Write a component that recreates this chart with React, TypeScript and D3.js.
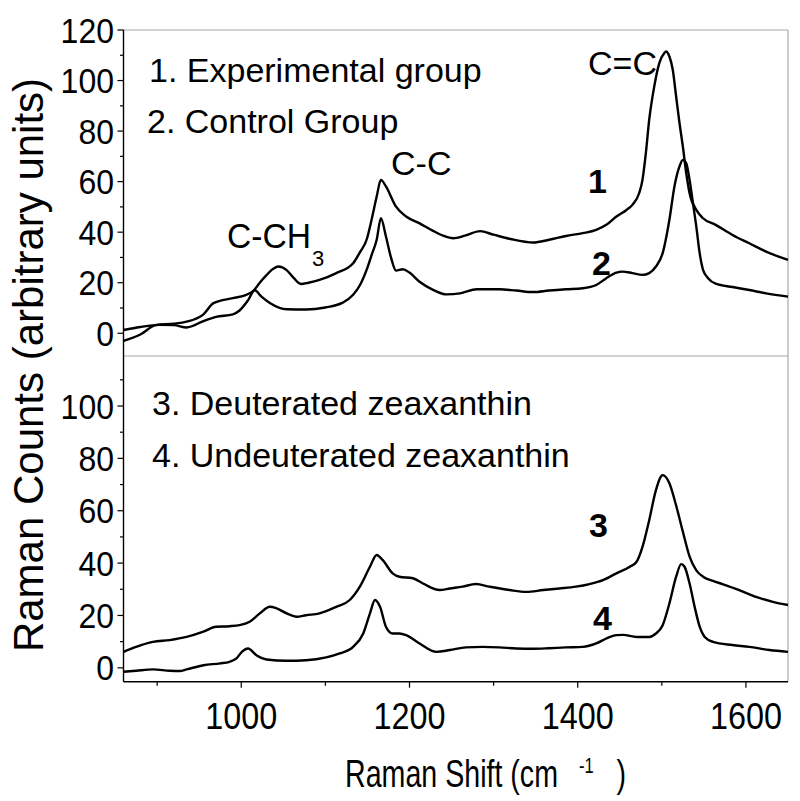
import React from 'react';
import * as d3 from 'd3';

// Curve 1: Experimental group (top panel)
const shift1 = [860, 880, 899, 920, 935, 955, 967, 990, 1006, 1015, 1022, 1030, 1038, 1044, 1054, 1062, 1071, 1080, 1093, 1113, 1133, 1141, 1149, 1155, 1161, 1166, 1172, 1184, 1196, 1212, 1228, 1240, 1252, 1266, 1284, 1300, 1320, 1347, 1366, 1386, 1406, 1422, 1434, 1446, 1458, 1465, 1473, 1477, 1481, 1485, 1491, 1497, 1503, 1505, 1509, 1513, 1517, 1521, 1525, 1529, 1533, 1541, 1549, 1564, 1584, 1604, 1624, 1650];
const counts1 = [-3, -0.5, 3.3, 3.8, 4.6, 7.5, 11.9, 13.9, 15.2, 17, 20, 23, 25.5, 26.4, 25, 22, 19.5, 20, 21.1, 23.8, 27.7, 32, 37, 45, 54.1, 60.7, 58.1, 50.1, 46.2, 43.5, 40.5, 38.6, 37.6, 38.6, 40.4, 39, 37.3, 35.9, 37, 38.5, 39.6, 40.9, 42.9, 46.2, 48.8, 50.8, 55.4, 60.7, 71.3, 84.5, 97.7, 106.9, 110.9, 111.5, 109.5, 104.3, 93.7, 83.2, 73.9, 63.4, 55.4, 48.8, 45.5, 42.9, 38.9, 35.6, 32.3, 29];

// Curve 2: Control group (top panel)
const shift2 = [860, 880, 903, 920, 935, 955, 970, 990, 998, 1008, 1016, 1024, 1034, 1054, 1077, 1100, 1120, 1133, 1141, 1149, 1155, 1161, 1166, 1172, 1178, 1184, 1192, 1200, 1212, 1228, 1244, 1260, 1280, 1307, 1327, 1347, 1366, 1386, 1406, 1422, 1434, 1446, 1453, 1465, 1477, 1485, 1493, 1501, 1509, 1515, 1521, 1525, 1529, 1533, 1537, 1541, 1545, 1549, 1555, 1564, 1584, 1604, 1624, 1650];
const counts2 = [1.3, 2.5, 3.3, 3.2, 2.3, 4.8, 6.5, 7.5, 9, 13, 17, 14.5, 12, 9.5, 9.4, 10.2, 12, 15.2, 19, 25.1, 31, 37, 45.5, 38.3, 30, 24.8, 25.3, 24, 20.4, 17.2, 15.4, 15.8, 17.4, 17.4, 16.9, 16.3, 16.9, 17.4, 17.8, 19.1, 21.8, 24, 24.4, 23.8, 23.1, 23.8, 26.4, 31.7, 44.9, 58.1, 66, 68.6, 67.3, 60.7, 51.5, 42.2, 31.7, 25.1, 21.8, 19.6, 18.3, 17.1, 15.8, 14.5];

// Curve 3: Deuterated zeaxanthin (bottom panel)
const shift3 = [860, 875, 895, 915, 935, 955, 970, 986, 998, 1010, 1022, 1034, 1042, 1054, 1066, 1077, 1093, 1113, 1129, 1141, 1153, 1161, 1168, 1180, 1188, 1204, 1216, 1236, 1248, 1263, 1279, 1295, 1319, 1339, 1359, 1378, 1398, 1414, 1430, 1446, 1462, 1470, 1477, 1485, 1493, 1501, 1509, 1517, 1525, 1533, 1541, 1550, 1560, 1572, 1592, 1612, 1632, 1650];
const counts3 = [6.1, 8, 9.9, 10.6, 11.8, 13.8, 15.7, 15.9, 16.3, 17.6, 20.8, 23.3, 22.7, 20.8, 19.5, 20.1, 20.8, 23.3, 25.9, 31, 38.6, 43.1, 41.2, 36.1, 34.8, 34.2, 32.2, 29.7, 30.3, 31, 32, 31, 29.7, 29, 29.7, 30.3, 31, 32, 33.5, 36.1, 38.6, 40.5, 46.2, 56.4, 67.9, 73.6, 70.5, 62, 52, 42.5, 37.2, 34.6, 33.3, 32, 29.7, 27.1, 25.2, 24];

// Curve 4: Undeuterated zeaxanthin (bottom panel)
const shift4 = [860, 875, 895, 915, 927, 935, 955, 975, 986, 994, 1001, 1008, 1018, 1030, 1054, 1077, 1101, 1117, 1133, 1145, 1153, 1159, 1165, 1172, 1180, 1188, 1196, 1212, 1232, 1248, 1267, 1287, 1307, 1327, 1347, 1366, 1386, 1406, 1422, 1434, 1446, 1454, 1470, 1485, 1493, 1501, 1509, 1517, 1523, 1527, 1533, 1539, 1545, 1551, 1561, 1584, 1604, 1628, 1650];
const counts4 = [-1.5, -1.1, -0.6, -1.1, -1.2, -0.6, 1, 1.7, 2.3, 3.5, 6.2, 7.4, 4.8, 3.2, 2.7, 2.9, 4, 5.5, 8, 13.1, 20.8, 25.9, 23.3, 15.7, 13.1, 13.1, 12.5, 9.3, 6.1, 6.8, 7.8, 8, 7.8, 7.4, 7.3, 7.5, 7.8, 8, 9.3, 11.2, 12.5, 12.6, 11.8, 11.8, 13.1, 16.3, 24.6, 34.8, 39.6, 38.6, 32.2, 23.3, 15.7, 11.8, 9.9, 8.7, 8, 6.8, 6.1];

const xMajorTicks = [1000, 1200, 1400, 1600];
const xMinorTicks = [900, 1100, 1300, 1500];
const yMajorTop = [0, 20, 40, 60, 80, 100, 120];
const yMinorTop = [10, 30, 50, 70, 90, 110];
const yMajorBottom = [0, 20, 40, 60, 80, 100];
const yMinorBottom = [10, 30, 50, 70, 90, 110];

const legendTop = ['1. Experimental group', '2. Control Group'];
const legendBottom = ['3. Deuterated zeaxanthin', '4. Undeuterated zeaxanthin'];

const FONT = '"Liberation Sans", Arial, sans-serif';

export default function App() {
  const L = 123.5, R = 788;
  const T1 = 30, B1 = 356, T2 = 356, B2 = 681.7;
  const x = d3.scaleLinear().domain([860, 1650]).range([L, R]);
  const yTop = d3.scaleLinear().domain([-9, 120]).range([B1, T1]);
  const yBot = d3.scaleLinear().domain([-5.3, 119.1]).range([B2, T2]);

  const mk = (xs: number[], ys: number[], y: d3.ScaleLinear<number, number>) =>
    d3.line<number>().x((_, i) => x(xs[i])).y((d) => y(d)).curve(d3.curveMonotoneX)(ys) || '';

  const gray = '#a8a8a8';
  const tickLabel = (v: number, yy: number, key: string) => {
    const s = String(v);
    return (
      <text key={key} x={114} y={yy + 12.5} textAnchor="end" fontSize={35} fontFamily={FONT}
        textLength={17.8 * s.length} lengthAdjust="spacingAndGlyphs">{s}</text>
    );
  };

  return (
    <svg width={800} height={801} style={{ position: 'absolute', left: 0, top: 0, background: '#fff' }}>
      <rect x={0} y={0} width={800} height={801} fill="#fff" />
      {/* frames */}
      <line x1={L} y1={T1} x2={R} y2={T1} stroke={gray} strokeWidth={1.2} />
      <line x1={R} y1={T1} x2={R} y2={B2} stroke={gray} strokeWidth={1.2} />
      <line x1={L} y1={B1} x2={R} y2={B1} stroke={gray} strokeWidth={1.2} />
      <line x1={L} y1={T1} x2={L} y2={B2} stroke="#000" strokeWidth={1.4} />
      <line x1={L} y1={B2} x2={R} y2={B2} stroke="#000" strokeWidth={1.4} />

      {/* y ticks top */}
      {yMajorTop.map((v) => (
        <line key={'ytm' + v} x1={L - 6} x2={L} y1={yTop(v)} y2={yTop(v)} stroke="#000" strokeWidth={1.2} />
      ))}
      {yMinorTop.map((v) => (
        <line key={'ytn' + v} x1={L - 3.5} x2={L} y1={yTop(v)} y2={yTop(v)} stroke="#000" strokeWidth={1.2} />
      ))}
      {yMajorTop.map((v) => tickLabel(v, yTop(v), 'ytl' + v))}

      {/* y ticks bottom */}
      {yMajorBottom.map((v) => (
        <line key={'ybm' + v} x1={L - 6} x2={L} y1={yBot(v)} y2={yBot(v)} stroke="#000" strokeWidth={1.2} />
      ))}
      {yMinorBottom.map((v) => (
        <line key={'ybn' + v} x1={L - 3.5} x2={L} y1={yBot(v)} y2={yBot(v)} stroke="#000" strokeWidth={1.2} />
      ))}
      {yMajorBottom.map((v) => tickLabel(v, yBot(v), 'ybl' + v))}

      {/* x ticks */}
      {xMajorTicks.map((v) => (
        <line key={'xm' + v} x1={x(v)} x2={x(v)} y1={B2} y2={B2 + 6} stroke="#000" strokeWidth={1.2} />
      ))}
      {xMinorTicks.map((v) => (
        <line key={'xn' + v} x1={x(v)} x2={x(v)} y1={B2} y2={B2 + 4} stroke="#000" strokeWidth={1.2} />
      ))}
      {xMajorTicks.map((v) => (
        <text key={'xl' + v} x={x(v)} y={729} textAnchor="middle" fontSize={36} fontFamily={FONT}
          textLength={72} lengthAdjust="spacingAndGlyphs">{v}</text>
      ))}

      {/* curves */}
      <path d={mk(shift1, counts1, yTop)} fill="none" stroke="#000" strokeWidth={2.4} strokeLinejoin="round" />
      <path d={mk(shift2, counts2, yTop)} fill="none" stroke="#000" strokeWidth={2.4} strokeLinejoin="round" />
      <path d={mk(shift3, counts3, yBot)} fill="none" stroke="#000" strokeWidth={2.4} strokeLinejoin="round" />
      <path d={mk(shift4, counts4, yBot)} fill="none" stroke="#000" strokeWidth={2.4} strokeLinejoin="round" />

      {/* legends */}
      <text x={149} y={82} fontSize={34} fontFamily={FONT}>{legendTop[0]}</text>
      <text x={147} y={133} fontSize={34} fontFamily={FONT}>{legendTop[1]}</text>
      <text x={152} y={415} fontSize={34} fontFamily={FONT}>{legendBottom[0]}</text>
      <text x={152} y={467} fontSize={34} fontFamily={FONT}>{legendBottom[1]}</text>

      {/* peak annotations */}
      <text x={227} y={248} fontSize={35} fontFamily={FONT} textLength={84} lengthAdjust="spacingAndGlyphs">C-CH</text>
      <text x={312} y={266} fontSize={22} fontFamily={FONT}>3</text>
      <text x={391} y={175} fontSize={34} fontFamily={FONT}>C-C</text>
      <text x={588} y={75} fontSize={34} fontFamily={FONT}>C=C</text>

      {/* curve numbers */}
      <text x={588} y={193} fontSize={34} fontWeight="bold" fontFamily={FONT}>1</text>
      <text x={592} y={275} fontSize={34} fontWeight="bold" fontFamily={FONT}>2</text>
      <text x={589} y={537} fontSize={34} fontWeight="bold" fontFamily={FONT}>3</text>
      <text x={593} y={630} fontSize={34} fontWeight="bold" fontFamily={FONT}>4</text>

      {/* axis titles */}
      <text transform="translate(43,365) rotate(-90)" textAnchor="middle" fontSize={42} fontFamily={FONT}>
        Raman Counts (arbitrary units)
      </text>
      <text transform="translate(345,787) scale(0.753,1)" fontSize={38} fontFamily={FONT}>
        Raman Shift (cm
        <tspan dx={28} dy={-14} fontSize={22}>-1</tspan>
        <tspan dx={30} dy={14}>)</tspan>
      </text>
    </svg>
  );
}
